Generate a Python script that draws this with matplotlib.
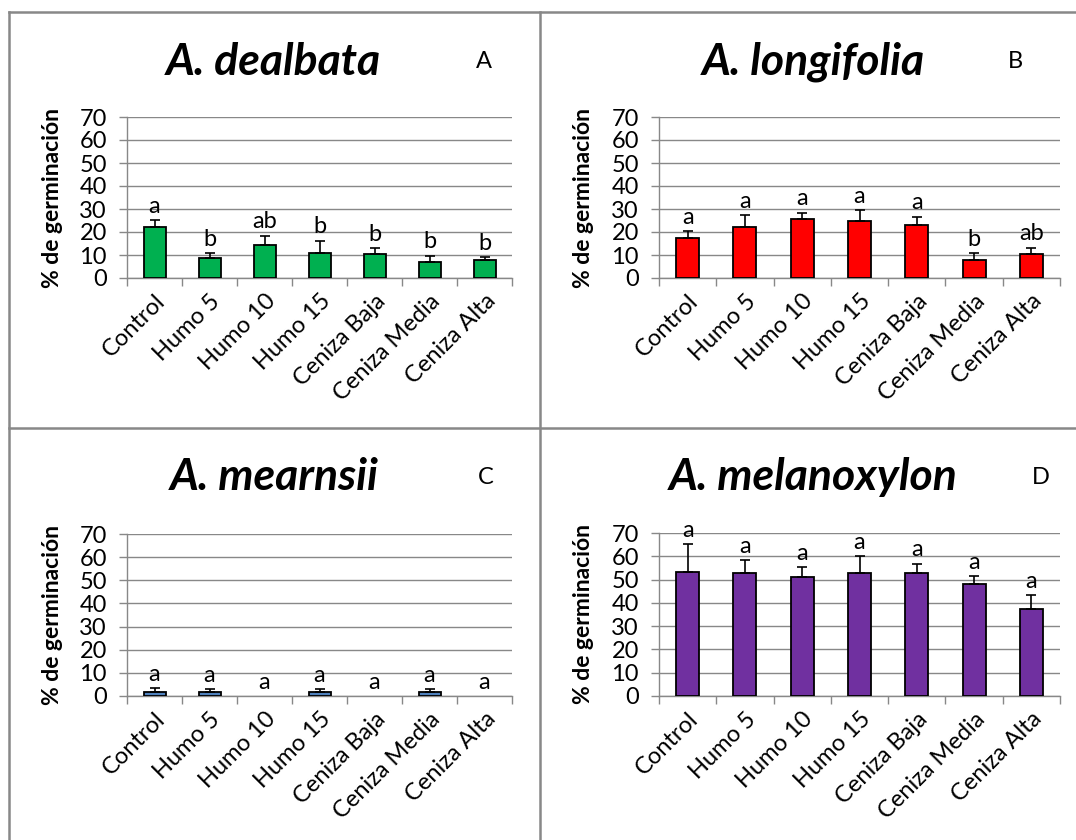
import matplotlib.pyplot as plt
import numpy as np

plt.rcParams['font.family'] = ['Lato', 'DejaVu Sans']

tratamientos = ["Control", "Humo 5", "Humo 10", "Humo 15",
                "Ceniza Baja", "Ceniza Media", "Ceniza Alta"]

# % de germinacion (media) y error (solo hacia arriba)
dealbata = [22.3, 8.7, 14.2, 11.0, 10.3, 7.0, 8.0]
dealbata_err = [2.8, 2.0, 4.2, 5.3, 2.6, 2.6, 1.0]
dealbata_letras = ["a", "b", "ab", "b", "b", "b", "b"]

longifolia = [17.6, 22.3, 25.5, 24.7, 23.2, 7.8, 10.3]
longifolia_err = [2.7, 5.0, 2.8, 4.7, 3.5, 2.9, 2.9]
longifolia_letras = ["a", "a", "a", "a", "a", "b", "ab"]

mearnsii = [1.7, 1.7, 0, 1.7, 0, 1.7, 0]
mearnsii_err = [1.6, 1.2, 0, 1.2, 0, 1.2, 0]
mearnsii_letras = ["a", "a", "a", "a", "a", "a", "a"]

melanoxylon = [53.4, 52.7, 51.1, 52.7, 52.7, 48.1, 37.4]
melanoxylon_err = [11.7, 5.7, 4.3, 7.4, 4.1, 3.3, 5.9]
melanoxylon_letras = ["a", "a", "a", "a", "a", "a", "a"]

paneles = [
    ("A. dealbata", "A", dealbata, dealbata_err, dealbata_letras, "#00B050"),
    ("A. longifolia", "B", longifolia, longifolia_err, longifolia_letras, "#FF0000"),
    ("A. mearnsii", "C", mearnsii, mearnsii_err, mearnsii_letras, "#4F81BD"),
    ("A. melanoxylon", "D", melanoxylon, melanoxylon_err, melanoxylon_letras, "#7030A0"),
]

W, H = 1076, 840
fig = plt.figure(figsize=(W / 100, H / 100), dpi=100)

# posiciones en pixeles: (izq, der, arriba, abajo), titulo x, letra x, titulo y, ylabel x
cajas = [
    (127, 512, 117, 278, 273, 484, 62, 63),
    (659, 1060, 117, 278, 813, 1015, 62, 594),
    (127, 512, 534, 696, 274, 486, 477, 63),
    (659, 1060, 533, 696, 813, 1041, 477, 594),
]

gris = "#888888"
fs = 17

for (titulo, letra, vals, errs, letras, color), caja in zip(paneles, cajas):
    x0, x1, y0, y1, tx, lx, ty, yl = caja
    ax = fig.add_axes([x0 / W, 1 - y1 / H, (x1 - x0) / W, (y1 - y0) / H])
    x = np.arange(len(tratamientos))
    vals = np.array(vals, dtype=float)
    errs = np.array(errs, dtype=float)
    lws = [1.3 if v > 0 else 0 for v in vals]
    ax.bar(x, vals, width=0.4, color=color, edgecolor="black", linewidth=lws, zorder=3)
    m = errs > 0
    ax.errorbar(x[m], vals[m], yerr=[np.zeros(m.sum()), errs[m]], fmt="none",
                ecolor="black", elinewidth=1.2, capsize=3.5, capthick=1.2, zorder=4)
    for xi, v, e, l in zip(x, vals, errs, letras):
        ax.annotate(l, (xi, v + e), xytext=(0, 2.5), textcoords="offset points",
                    ha="center", va="bottom", fontsize=fs, zorder=5)
    ax.set_ylim(0, 70)
    ax.set_xlim(-0.5, 6.5)
    ax.set_yticks(range(0, 71, 10))
    ax.yaxis.grid(True, color=gris, linewidth=1.0, zorder=0)
    ax.set_axisbelow(True)
    for s in ["top", "right"]:
        ax.spines[s].set_visible(False)
    for s in ["left", "bottom"]:
        ax.spines[s].set_color(gris)
        ax.spines[s].set_linewidth(1.0)
    ax.set_xticks(x)
    ax.set_xticklabels(tratamientos, rotation=45, ha="right", va="top",
                       rotation_mode="anchor", fontsize=fs)
    ax.set_xticks(np.arange(-0.5, 7, 1), minor=True)
    ax.tick_params(axis="x", which="major", length=0, pad=9)
    ax.tick_params(axis="x", which="minor", length=5.5, color=gris, width=1.0)
    ax.tick_params(axis="y", length=5.5, color=gris, width=1.0, labelsize=fs, pad=9)
    ax.set_ylabel("% de germinación", fontsize=16.5, fontweight="bold")
    ax.yaxis.set_label_coords((yl - x0) / (x1 - x0), 0.5)
    fig.text(tx / W, 1 - ty / H, titulo, fontsize=32, fontweight="bold",
             fontstyle="italic", ha="center", va="center")
    fig.text(lx / W, 1 - ty / H, letra, fontsize=17, ha="center", va="center")

# marcos de los paneles
lw = 1.8
fig.add_artist(plt.Line2D([8.5 / W, 1], [1 - 11.5 / H] * 2, color=gris, lw=lw))
fig.add_artist(plt.Line2D([8.5 / W] * 2, [0, 1 - 11.5 / H], color=gris, lw=lw))
fig.add_artist(plt.Line2D([540 / W] * 2, [0, 1 - 11.5 / H], color=gris, lw=lw))
fig.add_artist(plt.Line2D([8.5 / W, 1], [1 - 428 / H] * 2, color=gris, lw=lw))

fig.savefig("out.png", dpi=100)
